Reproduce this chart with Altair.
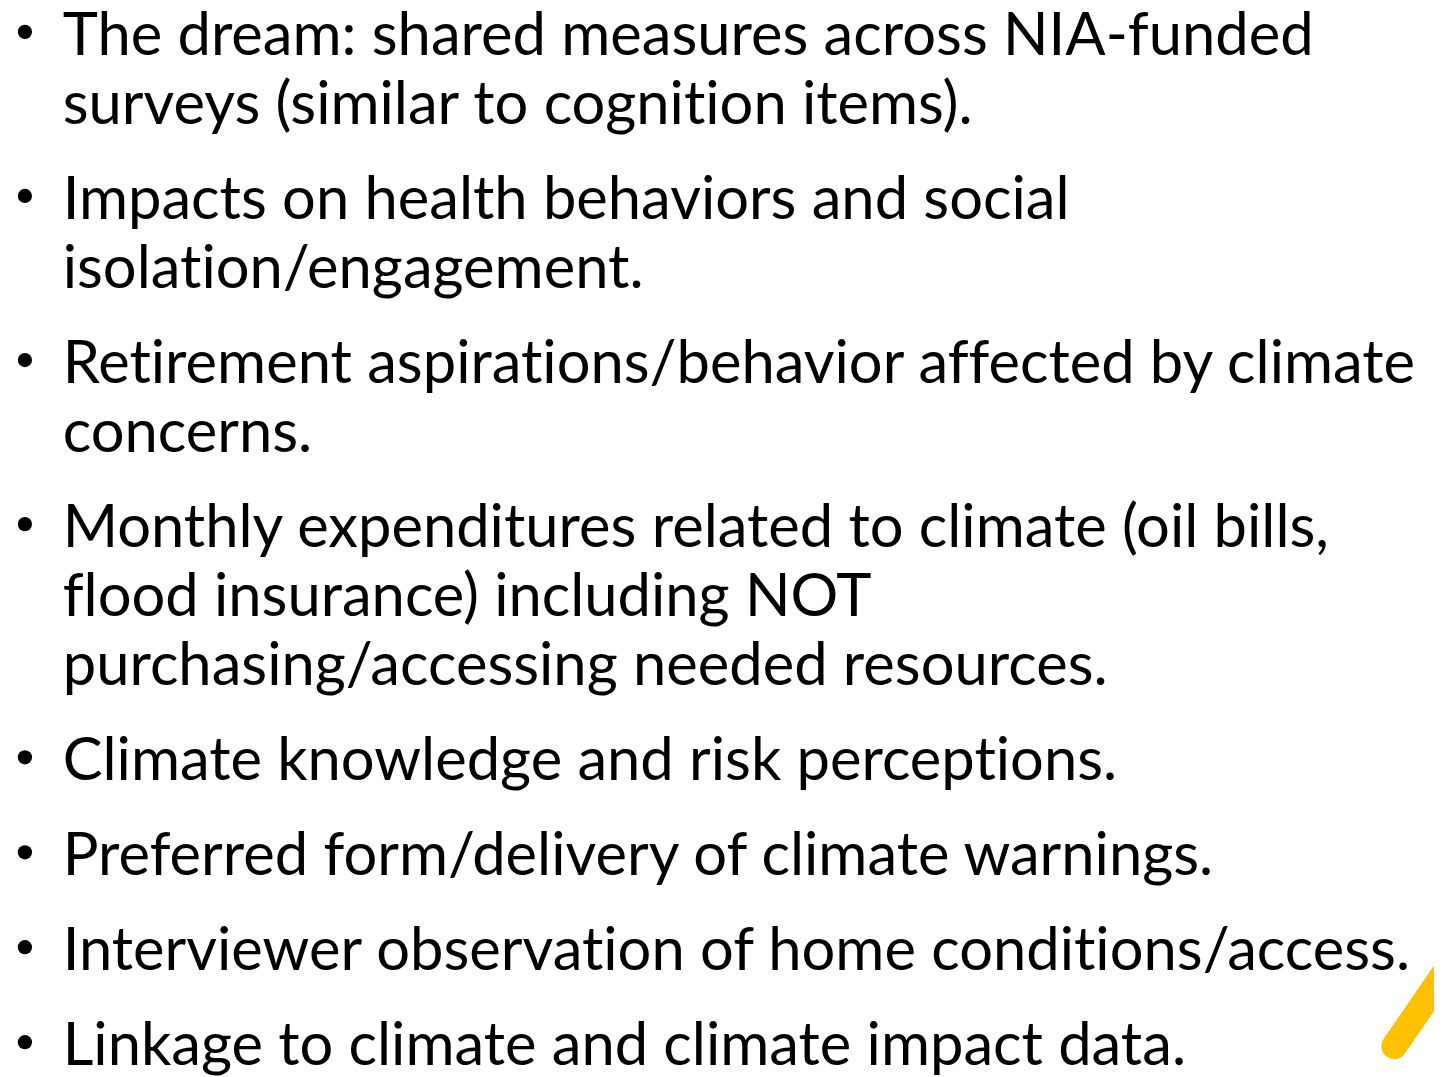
import altair as alt
import pandas as pd

# Slide content: each bullet is a list of wrapped lines
bullets = [
    ["The dream: shared measures across NIA-funded", "surveys (similar to cognition items)."],
    ["Impacts on health behaviors and social", "isolation/engagement."],
    ["Retirement aspirations/behavior affected by climate", "concerns."],
    ["Monthly expenditures related to climate (oil bills,", "flood insurance) including NOT", "purchasing/accessing needed resources."],
    ["Climate knowledge and risk perceptions."],
    ["Preferred form/delivery of climate warnings."],
    ["Interviewer observation of home conditions/access."],
    ["Linkage to climate and climate impact data."],
]

# Decorative accent stroke (bottom-right corner of slide)
accent_x = [1402, 1455]
accent_y = [1049, 972]

W, H = 1442, 1077
M = 8
FONT = "Lato"
FS = 60
LINE_STEP = 69.5
BULLET_GAP = 26
FIRST_BASE = 52
TEXT_X = 63
BULLET_X = 25
BULLET_RAISE = 23


def no_lig(s):
    # break typographic ligatures (ti, fl, ff, ...) with a zero-width non-joiner
    zw = "\u200c"
    for pair in ["ti", "fl", "ff", "fi", "ft", "tt"]:
        s = s.replace(pair, pair[0] + zw + pair[1])
    return s


rows = []
dots = []
line_idx = 0
for b_idx, lines in enumerate(bullets):
    for j, t in enumerate(lines):
        base = FIRST_BASE + LINE_STEP * line_idx + BULLET_GAP * b_idx
        rows.append({"text": no_lig(t), "x": TEXT_X, "y": base})
        if j == 0:
            dots.append({"x": BULLET_X, "y": base - BULLET_RAISE})
        line_idx += 1

text_df = pd.DataFrame(rows)
dot_df = pd.DataFrame(dots)
acc_df = pd.DataFrame({"x": accent_x, "y": accent_y, "o": [0, 1]})

xs = alt.Scale(domain=[M, W], range=[0, W - M], zero=False, nice=False)
ys = alt.Scale(domain=[M, H], range=[0, H - M], zero=False, nice=False)

X = lambda: alt.X("x:Q", scale=xs, axis=None)
Y = lambda: alt.Y("y:Q", scale=ys, axis=None)

text = alt.Chart(text_df).mark_text(
    font=FONT, fontSize=FS, align="left", baseline="alphabetic", color="#000000"
).encode(x=X(), y=Y(), text="text:N")

dot = alt.Chart(dot_df).mark_circle(size=205, color="#000000", opacity=1).encode(x=X(), y=Y())

accent = alt.Chart(acc_df).mark_line(
    color="#FFC000", strokeWidth=26, strokeCap="round", clip=True
).encode(x=X(), y=Y(), order="o:Q")

chart = alt.layer(accent, text, dot).properties(
    width=W - M, height=H - M, padding=0, autosize=alt.AutoSizeParams(type="none"),
    background="#ffffff"
).configure_view(stroke=None)

chart.save("out.html", embed_options={"renderer": "svg", "actions": False})
